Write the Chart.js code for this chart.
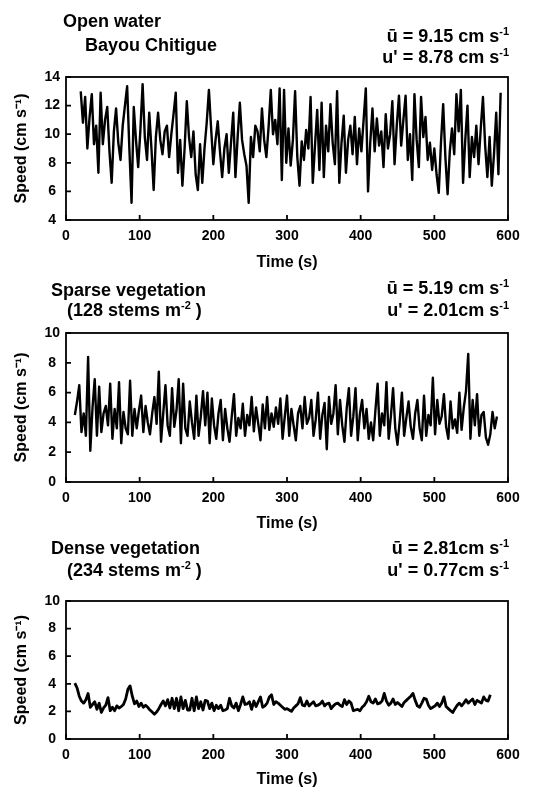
<!DOCTYPE html>
<html>
<head>
<meta charset="utf-8">
<script src="https://cdn.jsdelivr.net/npm/chart.js@4.4.1/dist/chart.umd.min.js"></script>
<style>
  body { margin: 0; background: #fff; }
  #page { position: relative; width: 538px; height: 789px; overflow: hidden; }
  canvas { position: absolute; left: 0; }
  .lbl { position: absolute; font: bold 18px "Liberation Sans", Arial, sans-serif; line-height: 20px; color: #000; white-space: nowrap; z-index: 2; }
  .r { text-align: right; right: 29px; }
  sup { font-size: 11px; line-height: 0; vertical-align: 7px; }
</style>
</head>
<body>
<div id="page">
  <canvas id="openWater" width="538" height="272" style="top:0px"></canvas>
  <canvas id="sparseVeg" width="538" height="261" style="top:272px"></canvas>
  <canvas id="denseVeg" width="538" height="256" style="top:533px"></canvas>

  <div class="lbl" style="left:63px; top:11px">Open water</div>
  <div class="lbl" style="left:85px; top:35px">Bayou Chitigue</div>
  <div class="lbl r" style="top:26px">ū = 9.15 cm s<sup>-1</sup></div>
  <div class="lbl r" style="top:47px">u' = 8.78 cm s<sup>-1</sup></div>

  <div class="lbl" style="left:51px; top:280px">Sparse vegetation</div>
  <div class="lbl" style="left:67px; top:300px">(128 stems m<sup>-2</sup> )</div>
  <div class="lbl r" style="top:278px">ū = 5.19 cm s<sup>-1</sup></div>
  <div class="lbl r" style="top:300px">u' = 2.01cm s<sup>-1</sup></div>

  <div class="lbl" style="left:51px; top:538px">Dense vegetation</div>
  <div class="lbl" style="left:67px; top:560px">(234 stems m<sup>-2</sup> )</div>
  <div class="lbl r" style="top:538px">ū = 2.81cm s<sup>-1</sup></div>
  <div class="lbl r" style="top:560px">u' = 0.77cm s<sup>-1</sup></div>
</div>
<script>
// sampled every 3 s
const sampleStep = 3;

// open water, Bayou Chitigue (starts t = 20 s)
const openStart = 20;
const openSpeed = [
  13.0, 10.8, 12.6, 9.0, 11.2, 12.8, 9.3, 10.6, 7.3, 12.9,
  9.3, 11.0, 11.9, 8.8, 6.6, 10.2, 11.8, 9.4, 8.2, 10.6,
  12.0, 13.35, 9.0, 5.2, 11.9, 9.6, 7.7, 10.3, 13.5, 9.8,
  8.2, 11.5, 9.0, 6.1, 9.8, 11.5, 9.6, 8.6, 10.2, 10.6,
  8.4, 10.0, 11.4, 12.9, 7.3, 9.6, 6.4, 9.0, 12.3, 9.8,
  8.4, 10.2, 7.2, 6.1, 9.3, 6.6, 9.0, 10.8, 13.1, 10.4,
  7.9, 9.6, 10.9, 8.8, 7.0, 9.0, 10.0, 7.3, 9.4, 11.5,
  7.0, 9.8, 12.2, 9.6, 8.6, 7.8, 5.2, 9.8, 8.4, 10.6,
  10.2, 8.8, 11.8, 9.6, 8.4, 10.5, 13.1, 10.0, 11.0, 9.3,
  13.2, 6.8, 13.1, 8.0, 10.4, 7.8, 9.6, 13.0, 8.4, 6.4,
  9.5, 8.2, 10.3, 9.0, 12.6, 6.6, 9.2, 11.7, 7.5, 12.2,
  7.0, 10.6, 8.8, 12.1, 9.4, 7.9, 13.0, 6.6, 9.4, 11.3,
  7.3, 9.6, 10.6, 8.6, 11.2, 7.9, 10.4, 8.8, 11.0, 13.2,
  6.0, 9.4, 11.8, 8.8, 11.1, 9.2, 10.2, 7.7, 11.4, 9.0,
  10.0, 12.3, 7.9, 10.6, 12.7, 9.2, 11.0, 12.7, 8.2, 10.0,
  6.8, 12.8, 9.6, 7.7, 12.6, 9.8, 11.2, 8.2, 9.4, 7.5,
  9.0, 7.2, 5.9, 9.4, 12.1, 8.4, 5.8, 8.8, 10.4, 8.6,
  12.8, 10.2, 13.1, 6.6, 9.6, 12.0, 7.0, 9.8, 8.4, 10.6,
  7.9, 10.4, 12.6, 9.2, 7.0, 9.8, 6.4, 8.6, 11.5, 7.2, 12.9
];

// sparse vegetation, 128 stems m-2 (starts t = 12 s)
const sparseStart = 12;
const sparseSpeed = [
  4.5, 5.4, 6.5, 3.35, 4.6, 3.1, 8.4, 2.1, 5.0, 6.9,
  3.1, 6.4, 3.35, 4.6, 5.1, 3.8, 6.6, 2.9, 4.9, 3.6,
  6.7, 2.6, 4.7, 3.6, 3.2, 6.8, 3.1, 4.9, 3.6, 4.8,
  5.8, 3.35, 5.1, 4.0, 3.2, 4.6, 5.7, 3.9, 7.4, 2.7,
  4.6, 6.5, 3.8, 3.1, 6.3, 3.7, 4.8, 6.9, 2.6, 6.6,
  3.6, 3.1, 5.4, 4.0, 2.9, 5.8, 3.1, 4.4, 6.1, 3.8,
  6.0, 2.6, 5.6, 3.8, 2.9, 4.6, 5.5, 2.8, 4.9, 3.6,
  2.7, 4.4, 5.9, 3.1, 4.3, 3.6, 5.25, 3.1, 4.5, 3.8,
  5.7, 3.4, 5.0, 3.9, 2.8, 5.2, 3.6, 5.7, 3.5, 4.6,
  3.7, 5.0, 3.9, 5.6, 2.9, 4.4, 5.8, 3.1, 4.9, 3.8,
  2.8, 4.6, 5.1, 3.6, 5.7, 3.9, 4.3, 5.5, 3.1, 4.2,
  6.0, 2.9, 4.5, 5.3, 2.2, 5.7, 3.9, 4.6, 6.5, 3.2,
  5.5, 3.8, 2.7, 4.9, 6.3, 3.1, 4.4, 6.3, 2.8, 4.6,
  5.5, 3.6, 4.9, 2.9, 4.0, 2.8, 4.8, 6.6, 3.1, 4.6,
  3.8, 6.7, 2.9, 4.4, 6.3, 3.6, 2.5, 4.1, 6.0, 3.1,
  4.3, 5.4, 3.7, 2.9, 4.6, 5.5, 3.6, 2.8, 5.8, 3.1,
  4.5, 3.8, 7.0, 3.2, 5.5, 3.9, 4.4, 5.9, 3.7, 2.9,
  5.4, 3.6, 4.2, 3.3, 6.0, 3.5, 5.0, 6.1, 8.6, 2.9,
  5.5, 3.8, 5.9, 3.1, 4.5, 4.7, 3.0, 2.5, 3.2, 4.7,
  3.6, 4.4
];

// dense vegetation, 234 stems m-2 (starts t = 12 s)
const denseStart = 12;
const denseSpeed = [
  4.05, 3.7, 3.1, 2.75, 2.6, 2.85, 3.3, 2.3, 2.5, 2.7,
  2.15, 2.6, 1.92, 2.25, 2.45, 3.0, 2.05, 2.3, 2.05, 2.4,
  2.25, 2.35, 2.5, 2.9, 3.6, 3.85, 3.1, 2.55, 2.75, 2.35,
  2.6, 2.3, 2.45, 2.3, 2.1, 1.95, 1.8, 1.95, 2.2, 2.5,
  2.75, 2.4, 2.85, 2.25, 2.95, 2.2, 2.95, 2.05, 3.05, 2.2,
  2.8, 2.1, 2.1, 2.95, 2.05, 3.05, 2.2, 2.7, 2.1, 2.8,
  2.75, 2.2, 2.6, 2.05, 2.45, 2.2, 2.45, 2.05, 2.1, 2.2,
  2.95, 2.4, 2.25, 2.6, 2.05, 2.5, 3.05, 2.5, 2.55, 2.7,
  2.15, 2.75, 2.35, 2.7, 3.05, 2.3, 2.4, 2.6, 3.05, 3.2,
  2.5, 2.7, 2.6, 2.45, 2.3, 2.15, 2.2, 2.1, 2.0, 2.25,
  2.4, 2.55, 3.0, 2.45, 2.4, 2.75, 2.4, 2.55, 2.7, 2.4,
  2.45, 2.55, 2.75, 2.4, 2.55, 2.6, 2.2, 2.4, 2.55, 2.6,
  2.45, 2.35, 2.85, 2.5, 2.75, 2.6, 2.05, 2.1, 2.15, 2.05,
  2.3, 2.45, 2.7, 3.1, 2.7, 2.6, 2.9, 2.55, 2.6, 2.75,
  3.3, 2.75, 2.45, 2.6, 2.9, 2.5, 2.65, 2.5, 2.35, 2.65,
  2.8, 2.95, 3.1, 3.3, 2.8, 2.4, 2.3, 2.6, 2.95, 2.9,
  2.45, 2.2, 2.3, 2.4, 2.6, 2.35, 2.6, 3.05, 2.35, 2.2,
  2.05, 1.92, 2.2, 2.45, 2.6, 2.4, 2.6, 2.85, 2.6, 2.75,
  2.9, 2.5, 2.8, 2.7, 2.6, 3.05, 2.8, 2.75, 3.2
];

const timeTicks = [0, 100, 200, 300, 400, 500, 600];

Chart.defaults.font.family = "'Liberation Sans', Arial, sans-serif";
Chart.defaults.font.weight = 'bold';
Chart.defaults.color = '#000';

function toPoints(start, values) {
  return values.map((v, i) => ({ x: start + i * sampleStep, y: v }));
}

// box round the plot and small inward tick marks
const framePlugin = {
  id: 'frame',
  afterDatasetsDraw(chart) {
    const { ctx, chartArea: a, scales: { x, y } } = chart;
    ctx.save();
    ctx.strokeStyle = '#000';
    ctx.lineWidth = 1.8;
    ctx.strokeRect(a.left, a.top, a.right - a.left, a.bottom - a.top);
    ctx.beginPath();
    x.ticks.forEach((t) => {
      const px = x.getPixelForValue(t.value);
      ctx.moveTo(px, a.bottom);
      ctx.lineTo(px, a.bottom - 5);
    });
    y.ticks.forEach((t) => {
      const py = y.getPixelForValue(t.value);
      ctx.moveTo(a.left, py);
      ctx.lineTo(a.left + 5, py);
    });
    ctx.stroke();
    ctx.restore();
  },
};

function makeChart(id, start, values, yMin, yMax, padTop, axisH, lineW) {
  const ctx = document.getElementById(id);
  return new Chart(ctx, {
    type: "line",
    data: {
      datasets: [
        {
          data: toPoints(start, values),
          borderColor: "#000",
          borderWidth: lineW,
          borderJoinStyle: "round",
          pointRadius: 0,
          tension: 0,
          fill: false,
        },
      ],
    },
    options: {
      responsive: false,
      animation: false,
      devicePixelRatio: 1,
      layout: { padding: { top: padTop, right: 30, bottom: 0, left: 0 } },
      plugins: { legend: { display: false }, tooltip: { enabled: false } },
      scales: {
        x: {
          type: "linear",
          min: 0,
          max: 600,
          afterBuildTicks: (s) => { s.ticks = timeTicks.map((v) => ({ value: v })); },
          afterFit: (s) => { s.height = axisH; },
          grid: { display: false, drawTicks: false },
          border: { display: false },
          ticks: { padding: 8, maxRotation: 0, font: { size: 14, weight: "bold" } },
          title: { display: true, text: "Time (s)", padding: { top: 0, bottom: 0 }, font: { size: 16, weight: "bold" } },
        },
        y: {
          min: yMin,
          max: yMax,
          afterFit: (s) => { s.width = 66; },
          grid: { display: false, drawTicks: false },
          border: { display: false },
          ticks: { stepSize: 2, padding: 6, crossAlign: "center", font: { size: 14, weight: "bold" } },
          title: { display: true, text: "Speed (cm s⁻¹)", padding: { top: 12, bottom: 0 }, font: { size: 16, weight: "bold" } },
        },
      },
    },
    plugins: [framePlugin],
  });
}

makeChart("openWater", openStart, openSpeed, 4, 14, 77, 52, 2.4);
makeChart("sparseVeg", sparseStart, sparseSpeed, 0, 10, 61, 51, 2.4);
makeChart("denseVeg", denseStart, denseSpeed, 0, 10, 68, 50, 2.8);
</script>
</body>
</html>
